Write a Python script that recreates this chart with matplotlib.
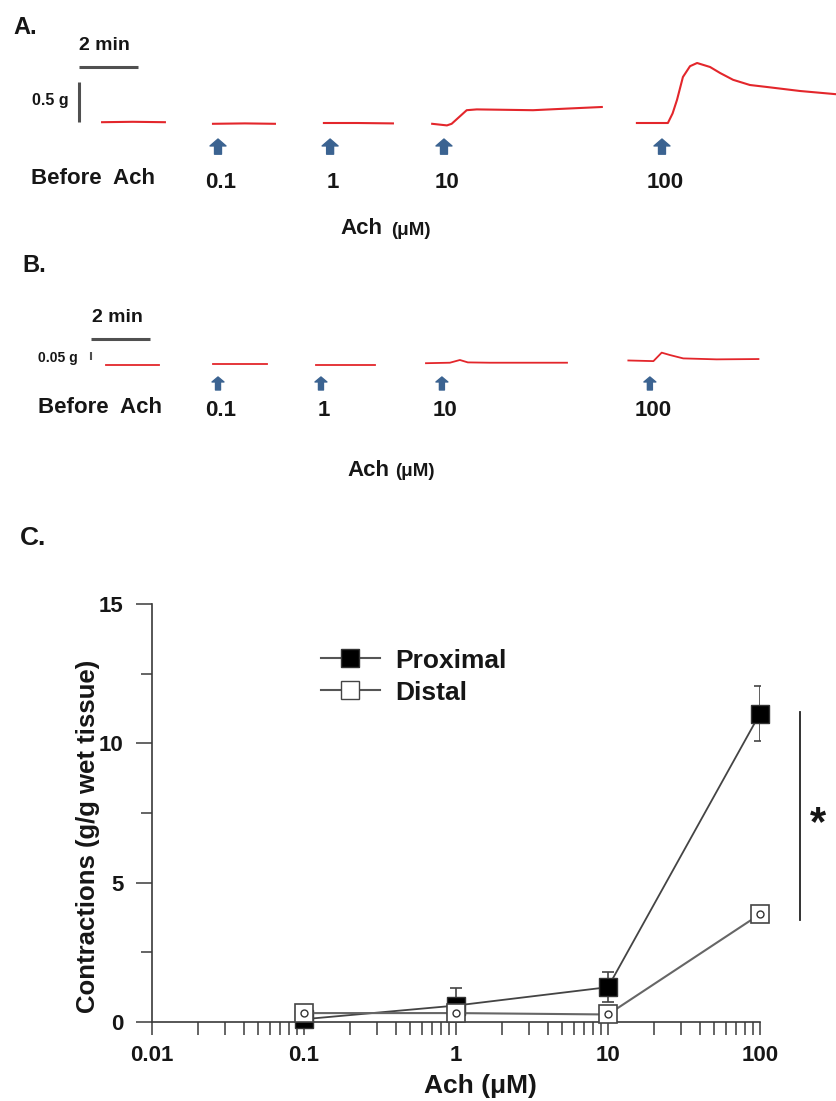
import numpy as np
import matplotlib.pyplot as plt
from matplotlib.lines import Line2D
from matplotlib.ticker import LogLocator, NullFormatter

plt.rcParams['font.family'] = ['Liberation Sans', 'DejaVu Sans']
plt.rcParams['font.weight'] = 'bold'
plt.rcParams['axes.labelweight'] = 'bold'

TXT = '#161616'
RED = '#e3262b'
BLUE = '#3b6391'
BAR = '#505050'
AX = '#3a3a3a'

# ---------- A. proximal strip traces (time in min, tension in g over baseline)
a_t_before = [3.46, 4.5, 5.59]
a_g_before = [0.01, 0.015, 0.01]
a_t_01 = [7.22, 8.3, 9.32]
a_g_01 = [-0.01, -0.005, -0.01]
a_t_1 = [10.98, 12.1, 13.32]
a_g_1 = [0.0, 0.0, -0.005]
a_t_10 = [14.65, 15.15, 15.31, 15.82, 16.16, 18.07, 19.21, 20.4]
a_g_10 = [-0.01, -0.03, -0.01, 0.16, 0.17, 0.16, 0.18, 0.2]
a_t_100 = [21.59, 22.64, 22.8, 22.95, 23.15, 23.39, 23.63, 24.07, 24.41, 24.85, 25.42, 26.0, 27.12, 28.34]
a_g_100 = [0.0, 0.0, 0.12, 0.29, 0.575, 0.71, 0.75, 0.70, 0.625, 0.54, 0.475, 0.45, 0.40, 0.36]
a_arrow_t = [7.39, 11.19, 15.05, 22.44]

# ---------- B. distal strip traces
b_t_before = [3.59, 5.39]
b_g_before = [-0.006, -0.006]
b_t_01 = [7.22, 9.05]
b_g_01 = [0.0, 0.0]
b_t_1 = [10.71, 12.71]
b_g_1 = [-0.006, -0.006]
b_t_10 = [14.44, 15.25, 15.59, 15.86, 16.6, 19.22]
b_g_10 = [0.005, 0.008, 0.025, 0.01, 0.008, 0.008]
b_t_100 = [21.3, 22.15, 22.43, 22.71, 23.16, 24.29, 25.71]
b_g_100 = [0.022, 0.018, 0.071, 0.056, 0.035, 0.029, 0.031]
b_arrow_t = [7.39, 10.88, 14.98, 22.03]

doses = ['0.1', '1', '10', '100']

# ---------- C. dose response
ach = [0.1, 1, 10, 100]
proximal = [0.1, 0.59, 1.25, 11.07]
proximal_err = [0.1, 0.63, 0.55, 1.0]
distal = [0.32, 0.32, 0.27, 3.87]

fig = plt.figure(figsize=(8.36, 11.01), dpi=100)

# panel A
axA = fig.add_axes([0, 1 - 250 / 1101, 1, 250 / 1101])
axA.set_xlim(0, 836 / 29.5)
axA.set_ylim(-1.5875, 1.5375)
axA.axis('off')
for t, g in [(a_t_before, a_g_before), (a_t_01, a_g_01), (a_t_1, a_g_1),
             (a_t_10, a_g_10), (a_t_100, a_g_100)]:
    axA.plot(t, g, color=RED, lw=1.5)
axA.plot([2.68, 4.68], [0.7, 0.7], color=BAR, lw=2.2, solid_capstyle='butt')
axA.plot([2.68, 2.68], [0.01, 0.51], color=BAR, lw=2.2, solid_capstyle='butt')
axA.text(3.53, 0.975, '2 min', ha='center', va='center', fontsize=14, color=TXT)
axA.text(2.31, 0.275, '0.5 g', ha='right', va='center', fontsize=11.5, color=TXT)
for t, d in zip(a_arrow_t, doses):
    axA.annotate('', xy=(t, -0.2), xytext=(t, -0.39),
                 arrowprops=dict(arrowstyle='simple,head_length=0.5,head_width=1.15,tail_width=0.5',
                                 mutation_scale=10, color=BLUE, shrinkA=0, shrinkB=0))
    axA.text(t + 0.1, -0.75, d, ha='center', va='center', fontsize=16, color=TXT)
axA.text(3.15, -0.6875, 'Before  Ach', ha='center', va='center', fontsize=16, color=TXT)
axA.text(12.24, -1.3125, 'Ach', ha='center', va='center', fontsize=16, color=TXT)
axA.text(13.25, -1.34, '(μM)', ha='left', va='center', fontsize=13.5, color=TXT)

# panel B
axB = fig.add_axes([0, 1 - 500 / 1101, 1, 250 / 1101])
axB.set_xlim(0, 836 / 29.5)
axB.set_ylim(-0.85, 0.7125)
axB.axis('off')
for t, g in [(b_t_before, b_g_before), (b_t_01, b_g_01), (b_t_1, b_g_1),
             (b_t_10, b_g_10), (b_t_100, b_g_100)]:
    axB.plot(t, g, color=RED, lw=1.3)
axB.plot([3.08, 5.08], [0.156, 0.156], color=BAR, lw=2.2, solid_capstyle='butt')
axB.plot([3.08, 3.08], [0.025, 0.075], color=BAR, lw=1.5, solid_capstyle='butt')
axB.text(3.97, 0.2875, '2 min', ha='center', va='center', fontsize=14, color=TXT)
axB.text(2.64, 0.0375, '0.05 g', ha='right', va='center', fontsize=10, color=TXT)
for t, d in zip(b_arrow_t, doses):
    axB.annotate('', xy=(t, -0.081), xytext=(t, -0.1625),
                 arrowprops=dict(arrowstyle='simple,head_length=0.36,head_width=0.86,tail_width=0.36',
                                 mutation_scale=10, color=BLUE, shrinkA=0, shrinkB=0))
    axB.text(t + 0.1, -0.29, d, ha='center', va='center', fontsize=16, color=TXT)
axB.text(3.39, -0.269, 'Before  Ach', ha='center', va='center', fontsize=16, color=TXT)
axB.text(12.5, -0.6625, 'Ach', ha='center', va='center', fontsize=16, color=TXT)
axB.text(13.4, -0.67, '(μM)', ha='left', va='center', fontsize=13.5, color=TXT)

fig.text(13 / 836, 1 - 28 / 1101, 'A.', ha='left', va='center', fontsize=17, color=TXT)
fig.text(22 / 836, 1 - 266 / 1101, 'B.', ha='left', va='center', fontsize=17, color=TXT)
fig.text(20 / 836, 1 - 538 / 1101, 'C.', ha='left', va='center', fontsize=19, color=TXT)

# panel C
ax = fig.add_axes([152 / 836, 79 / 1101, 608 / 836, 418 / 1101])
ax.set_xscale('log')
ax.set_xlim(0.01, 100)
ax.set_ylim(0, 15)
for s in ['top', 'right']:
    ax.spines[s].set_visible(False)
for s in ['left', 'bottom']:
    ax.spines[s].set_color(AX)
    ax.spines[s].set_linewidth(1.2)

ax.errorbar(ach, proximal, yerr=proximal_err, fmt='none', ecolor='#444444',
            elinewidth=1.2, capsize=4.5, capthick=1.2, zorder=2)
ax.plot(ach, proximal, color='#444444', lw=1.3, marker='s', ms=13.5,
        mfc='black', mec='#333333', zorder=3, clip_on=False)
ax.plot(ach, distal, color='#666666', lw=1.5, marker='s', ms=13,
        mfc='white', mec='#444444', mew=1.2, zorder=4, clip_on=False)
ax.plot(ach, distal, ls='none', marker='o', ms=5, mfc='white', mec='#333333',
        mew=1.0, zorder=5, clip_on=False)

# significance bar between the two 100 uM points
ax.plot([183, 183], [distal[-1] - 0.2, proximal[-1] + 0.05], color='#222222', lw=1.3, clip_on=False)
ax.text(240, 7.1, '*', ha='center', va='center', fontsize=30, color=TXT)

ax.set_xticks([0.01, 0.1, 1, 10, 100])
ax.set_xticklabels(['0.01', '0.1', '1', '10', '100'])
ax.xaxis.set_minor_locator(LogLocator(base=10, subs=np.arange(2, 10)))
ax.xaxis.set_minor_formatter(NullFormatter())
ax.set_yticks([0, 5, 10, 15])
ax.set_yticks([2.5, 7.5, 12.5], minor=True)
ax.tick_params(axis='x', which='both', direction='out', length=9.5, width=1.1,
               color=AX, labelsize=16, labelcolor=TXT, pad=7)
ax.tick_params(axis='y', which='major', direction='out', length=11.5, width=1.1,
               color=AX, labelsize=16, labelcolor=TXT, pad=9)
ax.tick_params(axis='y', which='minor', direction='out', length=8, width=1.1, color=AX)

ax.set_ylabel('Contractions (g/g wet tissue)', fontsize=18.5, fontweight='bold', color=TXT, va='center')
ax.yaxis.set_label_coords(-0.105, 0.445)
ax.set_xlabel('Ach (μM)', fontsize=19, fontweight='bold', color=TXT, va='center')
ax.xaxis.set_label_coords(0.541, -0.153)

handles = [Line2D([], [], color='#555555', lw=1.5, marker='s', ms=13, mfc='black', mec='#333333'),
           Line2D([], [], color='#555555', lw=1.5, marker='s', ms=13, mfc='white', mec='#444444')]
ax.legend(handles, ['Proximal', 'Distal'], loc='upper left', bbox_to_anchor=(0.2775, 0.893),
          frameon=False, fontsize=19, handlelength=2.24, handletextpad=0.57,
          labelspacing=0.3, borderpad=0, borderaxespad=0, labelcolor=TXT)

fig.savefig('out.png', dpi=100)
